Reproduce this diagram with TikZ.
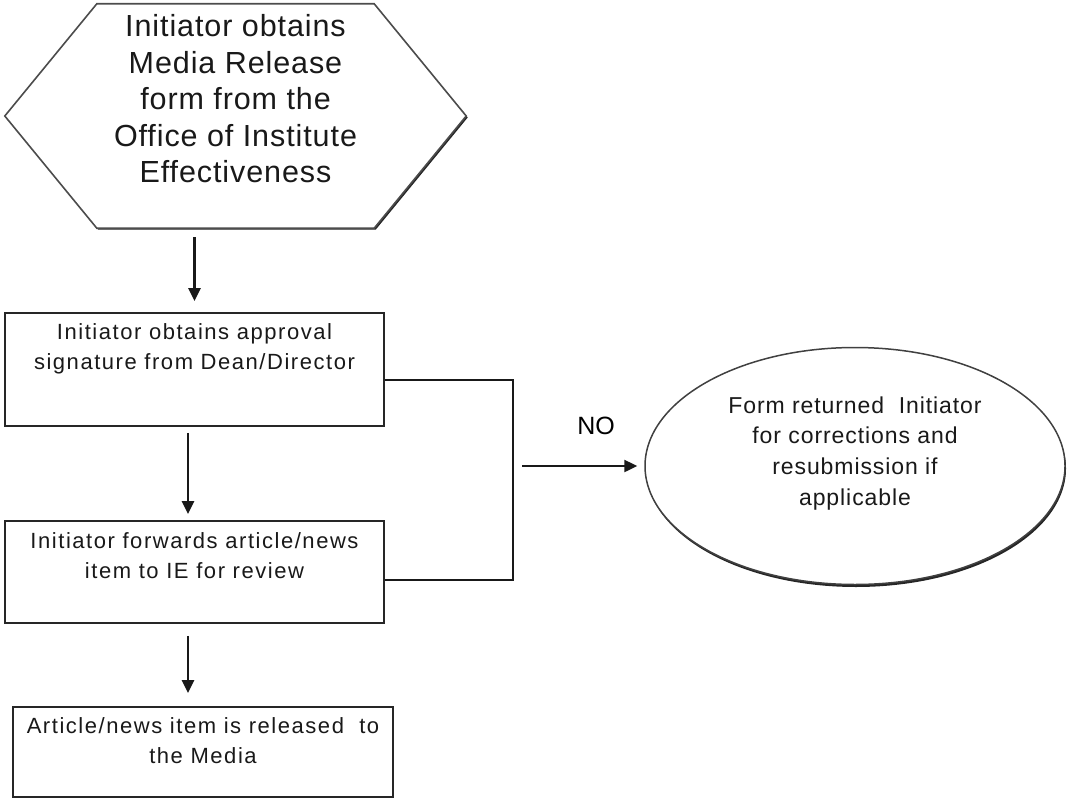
\documentclass[tikz,border=0pt]{standalone}
\usepackage{fontspec}
\usetikzlibrary{arrows.meta,shadows,backgrounds,shapes.geometric}
\newfontfamily\hexfont[LetterSpace=3]{Liberation Sans}
\newfontfamily\boxfont[LetterSpace=7]{Liberation Sans}
\newfontfamily\ellfont[LetterSpace=4]{Liberation Sans}
\newfontfamily\nofont{Liberation Sans}
\newcommand{\mlines}[1]{\begin{tabular}[t]{@{}c@{}}#1\end{tabular}}
\begin{document}
\begin{tikzpicture}[x=1pt,y=-1pt,
  boxstyle/.style={draw=black!85, line width=1.8pt, fill=white, inner sep=0pt,
    font=\boxfont\fontsize{22}{30.5}\selectfont, text=black!90, text height=16pt},
  conn/.style={line width=2.4pt, draw=black!90},
  arr/.style={conn, -{Triangle[length=13pt,width=12pt]}},
]
\useasboundingbox (0,0) rectangle (1067,800);
% hexagon (start)
\node[inner sep=0pt, minimum width=277pt, minimum height=224pt,
  font=\hexfont\fontsize{30.5}{36.5}\selectfont, text=black!90,
  text height=22pt, text depth=180pt] (hex) at (235.5,116)
  {\mlines{Initiator obtains\\Media Release\\form from the\\Office of Institute\\Effectiveness}};
\begin{scope}[on background layer]
\path[draw=black!70, line width=1.6pt, fill=white,
  drop shadow={shadow xshift=1.5pt, shadow yshift=-1.5pt, fill=black!85, opacity=1}]
  (hex.north west) -- (hex.north east) -- ([xshift=92pt]hex.east) -- (hex.south east)
  -- (hex.south west) -- ([xshift=-92pt]hex.west) -- cycle;
\end{scope}
% boxes
\node[boxstyle, minimum width=379pt, minimum height=113pt, text depth=77pt] (box1) at (194.5,369.5)
  {\mlines{Initiator obtains approval\\signature from Dean/Director}};
\node[boxstyle, minimum width=379pt, minimum height=102pt, text depth=64pt] (box2) at (194.5,572)
  {\mlines{Initiator forwards article/news\\item to IE for review}};
\node[boxstyle, minimum width=380pt, minimum height=90pt, text depth=54pt] (box3) at (203,752)
  {\mlines{Article/news item is released~ to\\the Media}};
% ellipse
\node[ellipse, draw=black!75, line width=1.5pt, fill=white,
  drop shadow={shadow xshift=1pt, shadow yshift=-2.5pt, fill=black!85, opacity=1},
  minimum width=420pt, minimum height=237pt, inner sep=0pt,
  font=\ellfont\fontsize{23}{30.7}\selectfont, text=black!90,
  text height=16.8pt, text depth=122.8pt] (ell) at (855,466)
  {\mlines{Form returned~ Initiator\\for corrections and\\resubmission if\\applicable}};
% label
\node[font=\nofont\fontsize{25}{30}\selectfont, inner sep=0pt] (nolabel) at (596,426) {NO};
% connectors
\coordinate (jtop) at (513,380);
\coordinate (jbot) at (513,580);
\coordinate (nostart) at (522,466);
\draw[arr, shorten <=9pt, shorten >=11pt] (hex.south -| box1.north) -- (box1.north);
\draw[arr, shorten <=6pt, shorten >=6pt] ([xshift=-6.5pt]box1.south) -- ([xshift=-6.5pt]box2.north);
\draw[arr, shorten <=12pt, shorten >=13pt] ([xshift=-6.5pt]box2.south) -- ([xshift=-6.5pt]box2.south |- box3.north);
\draw[conn] (box1.east |- jtop) -- (jtop) -- (jbot) -- (box2.east |- jbot);
\draw[arr, shorten >=7pt] (nostart) -- (ell.west);
\end{tikzpicture}
\end{document}
